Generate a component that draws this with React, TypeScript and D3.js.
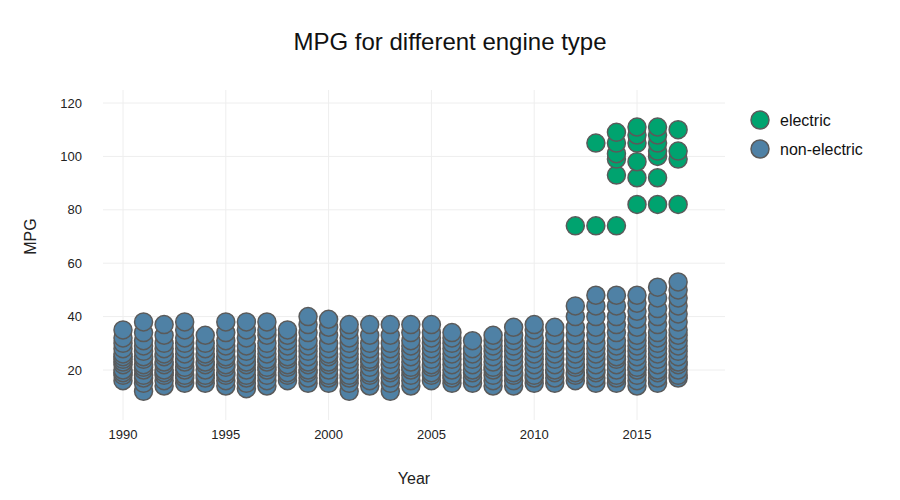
import React from "react";
import * as d3 from "d3";

const electric: [number, number][] = [
  [2012, 74], [2013, 74], [2013, 105],
  [2014, 74], [2014, 93], [2014, 99], [2014, 101], [2014, 105], [2014, 109],
  [2015, 82], [2015, 92], [2015, 98], [2015, 105], [2015, 108], [2015, 111],
  [2016, 82], [2016, 92], [2016, 100], [2016, 102], [2016, 105], [2016, 108], [2016, 111],
  [2017, 82], [2017, 99], [2017, 102], [2017, 110],
];

// non-electric MPG values per year
const nonElectricByYear: Record<number, number[]> = {
  1990: [16, 18, 19, 20, 22, 23, 24, 25, 26, 28, 30, 32, 35],
  1991: [12, 15, 17, 18, 20, 21, 22, 24, 25, 27, 29, 31, 34, 38],
  1992: [14, 16, 18, 19, 20, 22, 23, 25, 26, 28, 30, 33, 37],
  1993: [15, 17, 18, 20, 21, 23, 24, 26, 28, 30, 32, 35, 38],
  1994: [15, 17, 18, 20, 22, 23, 25, 26, 28, 30, 33],
  1995: [14, 16, 18, 19, 21, 22, 24, 25, 27, 29, 31, 34, 38],
  1996: [13, 15, 17, 18, 20, 22, 23, 25, 27, 29, 32, 35, 38],
  1997: [14, 16, 18, 20, 21, 23, 24, 26, 28, 30, 33, 35, 38],
  1998: [16, 18, 19, 21, 22, 24, 25, 27, 29, 31, 33, 35],
  1999: [15, 17, 19, 20, 22, 23, 25, 27, 29, 31, 34, 37, 40],
  2000: [15, 17, 18, 20, 22, 23, 25, 26, 28, 30, 33, 36, 39],
  2001: [12, 15, 17, 18, 20, 22, 24, 26, 28, 30, 32, 35, 37],
  2002: [14, 16, 18, 19, 21, 23, 24, 26, 28, 30, 33, 37],
  2003: [12, 15, 17, 19, 20, 22, 24, 26, 28, 30, 33, 37],
  2004: [14, 16, 18, 20, 21, 23, 25, 27, 29, 31, 34, 37],
  2005: [16, 18, 19, 21, 22, 24, 26, 28, 30, 32, 34, 37],
  2006: [15, 17, 18, 20, 22, 24, 26, 28, 30, 32, 34],
  2007: [15, 17, 19, 20, 22, 24, 26, 28, 31],
  2008: [14, 16, 18, 20, 21, 23, 25, 27, 29, 31, 33],
  2009: [14, 16, 18, 19, 21, 23, 25, 27, 29, 31, 33, 36],
  2010: [15, 17, 18, 20, 22, 24, 26, 28, 30, 32, 35, 37],
  2011: [15, 17, 19, 20, 22, 24, 26, 28, 30, 33, 36],
  2012: [16, 18, 19, 21, 22, 24, 26, 28, 30, 33, 36, 40, 44],
  2013: [15, 17, 19, 20, 22, 24, 26, 28, 30, 33, 36, 40, 44, 48],
  2014: [15, 17, 18, 20, 22, 24, 25, 27, 29, 31, 34, 37, 40, 44, 48],
  2015: [14, 16, 18, 20, 21, 23, 25, 27, 29, 31, 33, 36, 39, 42, 45, 48],
  2016: [15, 17, 19, 20, 22, 24, 26, 28, 30, 32, 34, 37, 40, 43, 47, 51],
  2017: [17, 18, 20, 22, 23, 25, 27, 29, 31, 33, 35, 38, 41, 44, 47, 50, 53],
};

const xTicks = [1990, 1995, 2000, 2005, 2010, 2015];
const yTicks = [20, 40, 60, 80, 100, 120];
const seriesNames = ["electric", "non-electric"];
const colors = ["#00a36f", "#4f81a5"];

const nonElectric: [number, number][] = Object.entries(nonElectricByYear).flatMap(
  ([yr, vals]) => vals.map((v) => [+yr, v] as [number, number])
);

export default function App() {
  const W = 900, H = 500;
  const x = d3.scaleLinear().domain([1990, 2015]).range([123, 637]);
  const y = d3.scaleLinear().domain([20, 120]).range([370, 103]);
  const font = "Arial, 'Liberation Sans', sans-serif";
  const dot = (d: [number, number], i: number, c: string) => (
    <circle key={i} cx={x(d[0])} cy={y(d[1])} r={9} fill={c} stroke="#5a5a5a" strokeWidth={1.5} />
  );
  return (
    <svg width={W} height={H} style={{ position: "absolute", left: 0, top: 0, fontFamily: font }}>
      <rect width={W} height={H} fill="#fff" />
      {xTicks.map((t) => (
        <line key={t} x1={x(t)} x2={x(t)} y1={90} y2={420} stroke="#eee" strokeWidth={1} />
      ))}
      {yTicks.map((t) => (
        <line key={t} x1={103} x2={725} y1={y(t)} y2={y(t)} stroke="#eee" strokeWidth={1} />
      ))}
      {nonElectric.map((d, i) => dot(d, i, colors[1]))}
      {electric.map((d, i) => dot(d, i, colors[0]))}
      {xTicks.map((t) => (
        <text key={t} x={x(t)} y={439} textAnchor="middle" fontSize={13} fill="#222">{t}</text>
      ))}
      {yTicks.map((t) => (
        <text key={t} x={82} y={y(t) + 4.5} textAnchor="end" fontSize={13} fill="#222">{t}</text>
      ))}
      <text x={450} y={50} textAnchor="middle" fontSize={24} fill="#111">MPG for different engine type</text>
      <text x={414} y={484} textAnchor="middle" fontSize={16} fill="#222">Year</text>
      <text transform={`translate(36,${y(70)}) rotate(-90)`} textAnchor="middle" fontSize={16} fill="#222">MPG</text>
      {seriesNames.map((n, i) => (
        <g key={n} transform={`translate(760,${120 + i * 29})`}>
          <circle r={9} fill={colors[i]} stroke="#5a5a5a" strokeWidth={1.5} />
          <text x={20} y={6} fontSize={16} fill="#111">{n}</text>
        </g>
      ))}
    </svg>
  );
}
